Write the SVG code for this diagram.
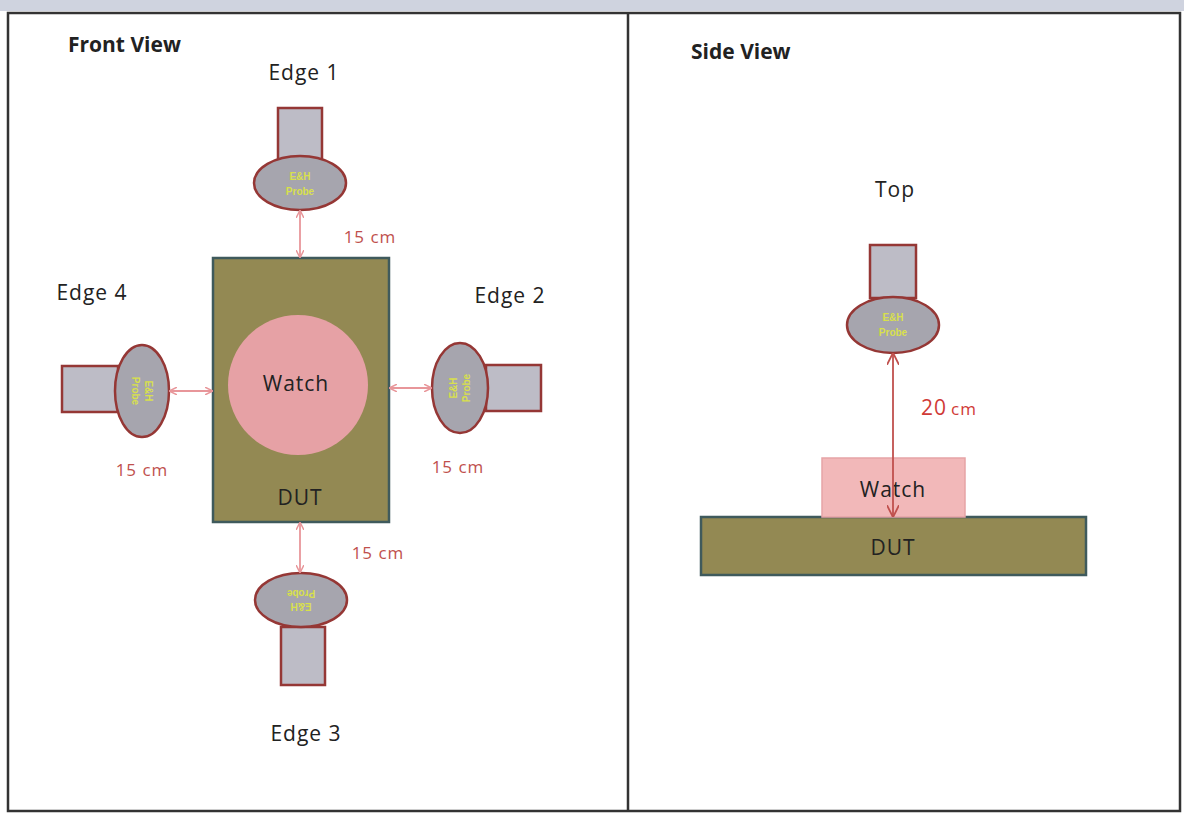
<svg xmlns="http://www.w3.org/2000/svg" width="1184" height="813" viewBox="0 0 1184 813">
<defs>
<style>
.lbl{font-family:"Open Sans","Liberation Sans",sans-serif;font-size:21px;fill:#222;text-anchor:middle;letter-spacing:1px}
.ttl{font-family:"Open Sans","Liberation Sans",sans-serif;font-size:21px;font-weight:bold;fill:#222;letter-spacing:0px}
.dist{font-family:"Open Sans","Liberation Sans",sans-serif;font-size:17px;fill:#c0504d;text-anchor:middle;letter-spacing:1px}
.pr-body{fill:#bdbcc6;stroke:#953735;stroke-width:2.5}
.pr-head{fill:#a6a5ae;stroke:#953735;stroke-width:2.5}
.pr-txt{font-family:"Liberation Sans",sans-serif;font-size:10px;font-weight:bold;fill:#d8e04c;text-anchor:middle}
.dut{fill:#938953;stroke:#3f5a5c;stroke-width:2.5}
.conn{stroke:#e8969a;stroke-width:1.8;fill:none}
.conn2{stroke:#c0504d;stroke-width:1.8;fill:none}
</style>
<marker id="ah" viewBox="0 0 10 10" refX="9" refY="5" markerWidth="8" markerHeight="8" orient="auto-start-reverse" markerUnits="userSpaceOnUse">
<path d="M0,0 L10,5 L0,10" fill="none" stroke="#e8969a" stroke-width="1.8"/>
</marker>
<marker id="ah2" viewBox="0 0 10 10" refX="9" refY="5" markerWidth="12" markerHeight="12" orient="auto-start-reverse" markerUnits="userSpaceOnUse">
<path d="M0,0 L10,5 L0,10" fill="none" stroke="#c0504d" stroke-width="1.5"/>
</marker>
</defs>
<rect width="1184" height="813" fill="#ffffff"/>
<rect x="0" y="0" width="1184" height="11" fill="#cfd3df"/>
<g id="frame" fill="none" stroke="#333333" stroke-width="2.5">
<rect x="8" y="13" width="1172" height="798"/>
<line x1="628" y1="13" x2="628" y2="811"/>
</g>
<text class="ttl" x="68" y="52">Front View</text>
<text class="ttl" x="691" y="59">Side View</text>

<g id="front-dut">
<rect class="dut" x="213" y="258" width="176" height="264"/>
<text class="lbl" x="300" y="505">DUT</text>
</g>
<g id="front-watch">
<circle cx="298" cy="385" r="70" fill="#e6a1a5"/>
<text class="lbl" x="296" y="391">Watch</text>
</g>

<g id="probe-edge1">
<rect class="pr-body" x="278" y="108" width="44" height="52"/>
<ellipse class="pr-head" cx="300" cy="183" rx="46" ry="27"/>
<text class="pr-txt" x="300" y="180">E&amp;H</text>
<text class="pr-txt" x="300" y="195">Probe</text>
<text class="lbl" x="304" y="80">Edge 1</text>
</g>
<g id="probe-edge4">
<rect class="pr-body" x="62" y="366" width="56" height="46"/>
<ellipse class="pr-head" cx="142" cy="391" rx="27" ry="46"/>
<g transform="rotate(90 142 391)">
<text class="pr-txt" x="142" y="388">E&amp;H</text>
<text class="pr-txt" x="142" y="401">Probe</text>
</g>
<text class="lbl" x="92" y="300">Edge 4</text>
</g>
<g id="probe-edge2">
<rect class="pr-body" x="486" y="365" width="55" height="46"/>
<ellipse class="pr-head" cx="460" cy="388" rx="28" ry="45"/>
<g transform="rotate(-90 460 388)">
<text class="pr-txt" x="460" y="385">E&amp;H</text>
<text class="pr-txt" x="460" y="398">Probe</text>
</g>
<text class="lbl" x="510" y="303">Edge 2</text>
</g>
<g id="probe-edge3">
<rect class="pr-body" x="281" y="627" width="44" height="58"/>
<ellipse class="pr-head" cx="301" cy="600" rx="46" ry="27"/>
<g transform="rotate(180 301 600)">
<text class="pr-txt" x="301" y="597">E&amp;H</text>
<text class="pr-txt" x="301" y="610">Probe</text>
</g>
<text class="lbl" x="306" y="741">Edge 3</text>
</g>

<g id="side-dut">
<rect class="dut" x="701" y="517" width="385" height="58"/>
<text class="lbl" x="893" y="555">DUT</text>
</g>
<g id="side-watch">
<rect x="822" y="458" width="143" height="59" fill="#f2b8b9" stroke="#e6a4a6" stroke-width="1.5"/>
<text class="lbl" x="893" y="497">Watch</text>
</g>
<g id="probe-top">
<rect class="pr-body" x="870" y="245" width="46" height="53"/>
<ellipse class="pr-head" cx="893" cy="325" rx="46" ry="28"/>
<text class="pr-txt" x="893" y="321">E&amp;H</text>
<text class="pr-txt" x="893" y="336">Probe</text>
<text class="lbl" x="895" y="197">Top</text>
</g>

<g id="connectors">
<line class="conn" x1="300" y1="211" x2="300" y2="257" marker-start="url(#ah)" marker-end="url(#ah)"/>
<line class="conn" x1="170" y1="391" x2="212" y2="391" marker-start="url(#ah)" marker-end="url(#ah)"/>
<line class="conn" x1="390" y1="388" x2="431" y2="388" marker-start="url(#ah)" marker-end="url(#ah)"/>
<line class="conn" x1="300" y1="523" x2="300" y2="572" marker-start="url(#ah)" marker-end="url(#ah)"/>
<line class="conn2" x1="893" y1="354" x2="893" y2="516" marker-start="url(#ah2)" marker-end="url(#ah2)"/>
</g>

<g id="labels">
<text class="dist" x="370" y="243">15 cm</text>
<text class="dist" x="142" y="476">15 cm</text>
<text class="dist" x="458" y="473">15 cm</text>
<text class="dist" x="378" y="559">15 cm</text>
<text x="921" y="415" font-family="'Open Sans','Liberation Sans',sans-serif" fill="#d03a36" letter-spacing="1"><tspan font-size="21px">20</tspan><tspan font-size="17px" dx="4">cm</tspan></text>
</g>
</svg>
